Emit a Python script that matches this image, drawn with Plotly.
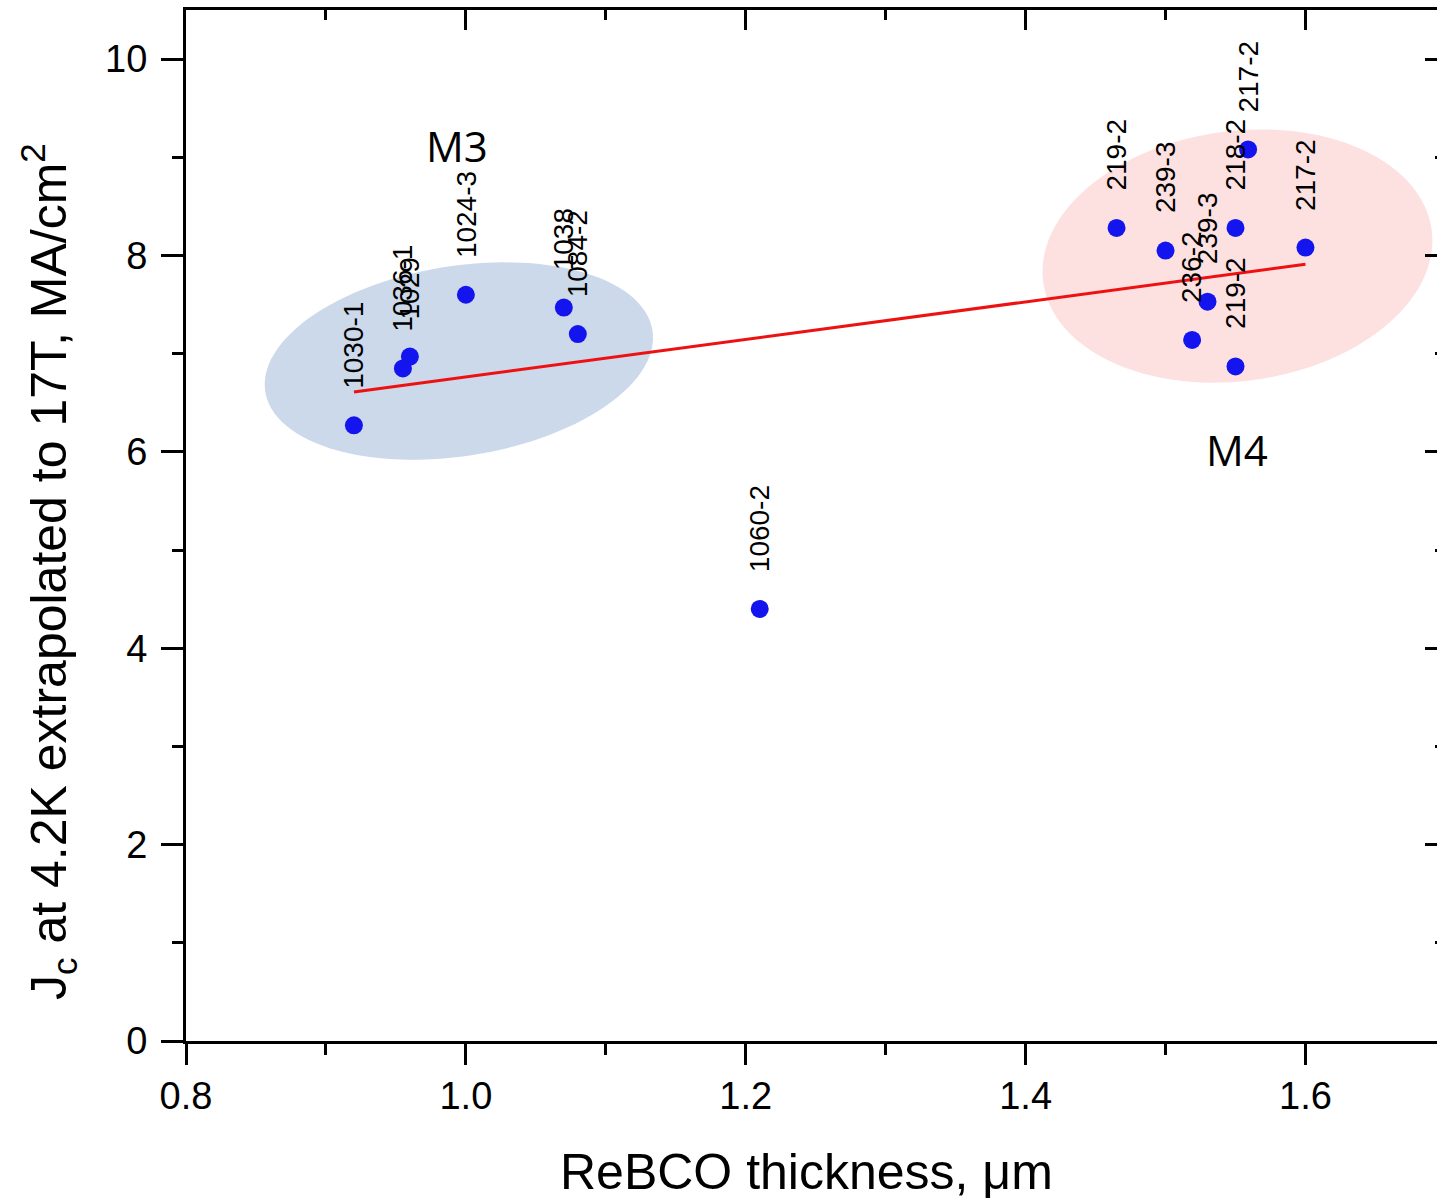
import numpy as np
import plotly.graph_objects as go

# ---------------- data ----------------
thickness = [0.92, 0.955, 0.96, 1.00, 1.07, 1.08, 1.21,
             1.465, 1.50, 1.519, 1.53, 1.55, 1.55, 1.559, 1.60]
jc = [6.27, 6.85, 6.97, 7.60, 7.47, 7.20, 4.40,
      8.28, 8.05, 7.14, 7.53, 6.87, 8.28, 9.08, 8.08]
sample_labels = ["1030-1", "1036-1", "1029", "1024-3", "1038", "1084-2", "1060-2",
                 "219-2", "239-3", "236-2", "239-3", "219-2", "218-2", "217-2", "217-2"]

fit_x = [0.92, 1.60]
fit_y = [6.61, 7.91]

group_names = ["M3", "M4"]
group_label_x = [0.994, 1.551]
group_label_y = [9.12, 6.02]

x_ticks = [0.8, 1.0, 1.2, 1.4, 1.6]
y_ticks = [0, 2, 4, 6, 8, 10]

# ---------------- layout constants ----------------
W, H = 1437, 1202
ML, MR, MT, MB = 186, 0, 10, 161
XR = [0.8, 1.694]
YR = [0, 10.5]
sx = (W - ML - MR) / (XR[1] - XR[0])   # px per x unit
sy = (H - MT - MB) / (YR[1] - YR[0])   # px per y unit

FONT = "Arial, Liberation Sans, sans-serif"


def ellipse_path(cx, cy, a_px, b_px, ang_deg, n=120):
    th = np.deg2rad(ang_deg)
    t = np.linspace(0, 2 * np.pi, n)
    dx = a_px * np.cos(t) * np.cos(th) - b_px * np.sin(t) * np.sin(th)
    dy = a_px * np.cos(t) * np.sin(th) + b_px * np.sin(t) * np.cos(th)
    xs = cx + dx / sx
    ys = cy + dy / sy
    p = "M %.5f,%.5f " % (xs[0], ys[0])
    p += " ".join("L %.5f,%.5f" % (x, y) for x, y in zip(xs[1:], ys[1:]))
    return p + " Z"


fig = go.Figure()

fig.add_trace(go.Scatter(x=fit_x, y=fit_y, mode="lines",
                         line=dict(color="#ee1111", width=3),
                         showlegend=False, hoverinfo="skip"))
fig.add_trace(go.Scatter(x=thickness, y=jc, mode="markers",
                         marker=dict(size=18, color="#1414ee", line=dict(width=0)),
                         showlegend=False))
# invisible trace to anchor mirror axes
fig.add_trace(go.Scatter(x=[XR[0]], y=[YR[0]], xaxis="x2", yaxis="y2", mode="markers",
                         marker=dict(opacity=0), showlegend=False, hoverinfo="skip"))

# ellipses
fig.add_shape(type="path", path=ellipse_path(0.995, 6.925, 196, 95, 9),
              fillcolor="#cbd9ea", line=dict(width=0), layer="below")
fig.add_shape(type="path", path=ellipse_path(1.5514, 7.994, 196, 125, 7.7),
              fillcolor="#fde1e1", line=dict(width=0), layer="below")

# sample labels
for x, y, lab in zip(thickness, jc, sample_labels):
    fig.add_annotation(x=x, y=y, text=lab, showarrow=False, textangle=-90,
                       xanchor="center", yanchor="bottom", yshift=35,
                       font=dict(family=FONT, size=28, color="black"))

for nm, gx, gy in zip(group_names, group_label_x, group_label_y):
    fig.add_annotation(x=gx, y=gy, text=nm, showarrow=False,
                       font=dict(family="Open Sans, Noto Sans, sans-serif", size=42, color="black"))

# axis titles
fig.add_annotation(xref="paper", yref="paper", x=(806 - ML) / (W - ML - MR),
                   y=(H - MB - 1172) / (H - MT - MB), text="ReBCO thickness, μm",
                   showarrow=False, xanchor="center", yanchor="middle",
                   font=dict(family=FONT, size=50, color="black"))
fig.add_annotation(xref="paper", yref="paper", x=(48 - ML) / (W - ML - MR),
                   y=(H - MB - 572) / (H - MT - MB),
                   text="J<sub>c</sub> at 4.2K extrapolated to 17T, MA/cm<sup>2</sup>",
                   showarrow=False, textangle=-90, xanchor="center", yanchor="middle",
                   font=dict(family=FONT, size=50, color="black"))

axis_common = dict(showgrid=False, zeroline=False, showline=True, linecolor="black",
                   linewidth=3, tickcolor="black", tickwidth=3)

fig.update_layout(
    width=W, height=H,
    margin=dict(l=ML, r=MR, t=MT, b=MB, pad=0),
    plot_bgcolor="white", paper_bgcolor="white",
    showlegend=False,
    xaxis=dict(range=XR, tickvals=x_ticks, ticktext=["%.1f" % v for v in x_ticks],
               ticks="outside", ticklen=21,
               minor=dict(dtick=0.1, tick0=0.8, ticks="outside", ticklen=11,
                          tickwidth=3, tickcolor="black"),
               tickfont=dict(family=FONT, size=38, color="black"),
               ticklabelstandoff=-2,
               **axis_common),
    yaxis=dict(range=YR, tickvals=y_ticks, ticks="outside", ticklen=22,
               minor=dict(dtick=1, tick0=0, ticks="outside", ticklen=11,
                          tickwidth=3, tickcolor="black"),
               tickfont=dict(family=FONT, size=38, color="black"),
               ticklabelstandoff=6,
               **axis_common),
    xaxis2=dict(range=XR, overlaying="x", side="top", tickvals=x_ticks,
                ticks="inside", ticklen=20, showticklabels=False,
                minor=dict(dtick=0.1, tick0=0.8, ticks="inside", ticklen=10,
                           tickwidth=3, tickcolor="black"),
                **axis_common),
    yaxis2=dict(range=YR, overlaying="y", side="right", tickvals=y_ticks,
                ticks="inside", ticklen=12, showticklabels=False,
                minor=dict(dtick=1, tick0=0, ticks="inside", ticklen=2,
                           tickwidth=3, tickcolor="black"),
                showgrid=False, zeroline=False, showline=False,
                tickcolor="black", tickwidth=3),
)

fig.write_html("out.html", config={"displayModeBar": False},
               post_script="document.body.style.margin='0';")
